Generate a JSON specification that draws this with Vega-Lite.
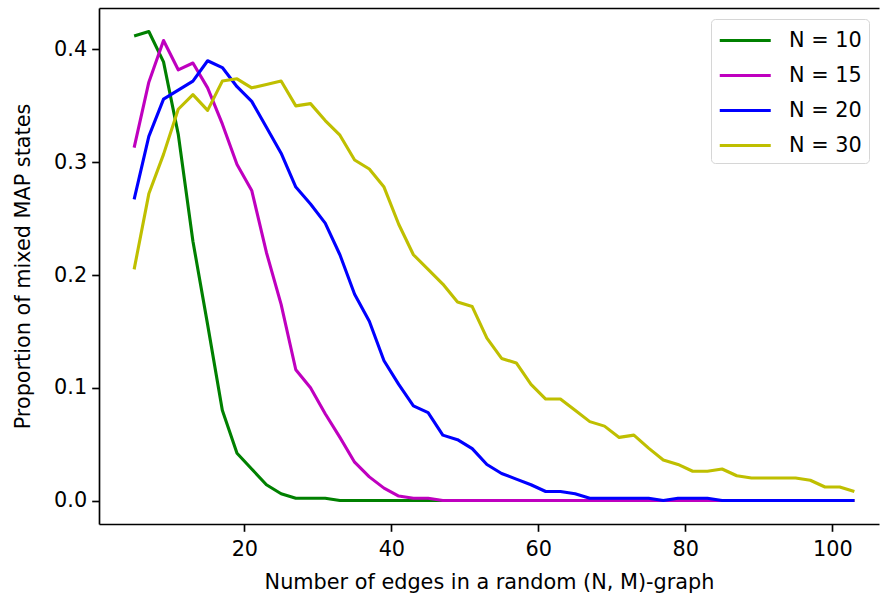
{
  "$schema": "https://vega.github.io/schema/vega-lite/v6.json",
  "width": 780,
  "height": 516,
  "autosize": {"type": "none"},
  "padding": {"left": 99, "top": 8, "right": 1, "bottom": 75},
  "background": "white",
  "config": {
    "font": "DejaVu Sans",
    "view": {"stroke": null},
    "axis": {
      "labelFontSize": 20.8,
      "titleFontSize": 20.8,
      "titleFontWeight": "normal",
      "labelColor": "black",
      "titleColor": "black",
      "tickColor": "black",
      "domainColor": "black",
      "tickSize": 7.3,
      "tickWidth": 1.67,
      "domainWidth": 1.67,
      "labelPadding": 5,
      "grid": false
    },
    "legend": {
      "labelFontSize": 20.8,
      "labelColor": "black",
      "labelFont": "DejaVu Sans"
    }
  },
  "data": {
    "values": [
      {"M":5,"N":"N = 10","p":0.412},{"M":7,"N":"N = 10","p":0.416},{"M":9,"N":"N = 10","p":0.389},{"M":11,"N":"N = 10","p":0.325},{"M":13,"N":"N = 10","p":0.230},{"M":15,"N":"N = 10","p":0.156},{"M":17,"N":"N = 10","p":0.080},{"M":19,"N":"N = 10","p":0.042},{"M":21,"N":"N = 10","p":0.028},{"M":23,"N":"N = 10","p":0.014},
      {"M":25,"N":"N = 10","p":0.006},{"M":27,"N":"N = 10","p":0.002},{"M":29,"N":"N = 10","p":0.002},{"M":31,"N":"N = 10","p":0.002},{"M":33,"N":"N = 10","p":0},{"M":35,"N":"N = 10","p":0},{"M":37,"N":"N = 10","p":0},{"M":39,"N":"N = 10","p":0},{"M":41,"N":"N = 10","p":0},{"M":43,"N":"N = 10","p":0},
      {"M":45,"N":"N = 10","p":0},{"M":47,"N":"N = 10","p":0},{"M":49,"N":"N = 10","p":0},{"M":51,"N":"N = 10","p":0},{"M":53,"N":"N = 10","p":0},{"M":55,"N":"N = 10","p":0},{"M":57,"N":"N = 10","p":0},{"M":59,"N":"N = 10","p":0},{"M":61,"N":"N = 10","p":0},{"M":63,"N":"N = 10","p":0},
      {"M":65,"N":"N = 10","p":0},{"M":67,"N":"N = 10","p":0},{"M":69,"N":"N = 10","p":0},{"M":71,"N":"N = 10","p":0},{"M":73,"N":"N = 10","p":0},{"M":75,"N":"N = 10","p":0},{"M":77,"N":"N = 10","p":0},{"M":79,"N":"N = 10","p":0},{"M":81,"N":"N = 10","p":0},{"M":83,"N":"N = 10","p":0},
      {"M":85,"N":"N = 10","p":0},{"M":87,"N":"N = 10","p":0},{"M":89,"N":"N = 10","p":0},{"M":91,"N":"N = 10","p":0},{"M":93,"N":"N = 10","p":0},{"M":95,"N":"N = 10","p":0},{"M":97,"N":"N = 10","p":0},{"M":99,"N":"N = 10","p":0},{"M":101,"N":"N = 10","p":0},{"M":103,"N":"N = 10","p":0},

      {"M":5,"N":"N = 15","p":0.313},{"M":7,"N":"N = 15","p":0.371},{"M":9,"N":"N = 15","p":0.408},{"M":11,"N":"N = 15","p":0.382},{"M":13,"N":"N = 15","p":0.388},{"M":15,"N":"N = 15","p":0.366},{"M":17,"N":"N = 15","p":0.334},{"M":19,"N":"N = 15","p":0.298},{"M":21,"N":"N = 15","p":0.275},{"M":23,"N":"N = 15","p":0.220},
      {"M":25,"N":"N = 15","p":0.174},{"M":27,"N":"N = 15","p":0.116},{"M":29,"N":"N = 15","p":0.100},{"M":31,"N":"N = 15","p":0.077},{"M":33,"N":"N = 15","p":0.056},{"M":35,"N":"N = 15","p":0.034},{"M":37,"N":"N = 15","p":0.021},{"M":39,"N":"N = 15","p":0.011},{"M":41,"N":"N = 15","p":0.004},{"M":43,"N":"N = 15","p":0.002},
      {"M":45,"N":"N = 15","p":0.002},{"M":47,"N":"N = 15","p":0},{"M":49,"N":"N = 15","p":0},{"M":51,"N":"N = 15","p":0},{"M":53,"N":"N = 15","p":0},{"M":55,"N":"N = 15","p":0},{"M":57,"N":"N = 15","p":0},{"M":59,"N":"N = 15","p":0},{"M":61,"N":"N = 15","p":0},{"M":63,"N":"N = 15","p":0},
      {"M":65,"N":"N = 15","p":0},{"M":67,"N":"N = 15","p":0},{"M":69,"N":"N = 15","p":0},{"M":71,"N":"N = 15","p":0},{"M":73,"N":"N = 15","p":0},{"M":75,"N":"N = 15","p":0},{"M":77,"N":"N = 15","p":0},{"M":79,"N":"N = 15","p":0},{"M":81,"N":"N = 15","p":0},{"M":83,"N":"N = 15","p":0},
      {"M":85,"N":"N = 15","p":0},{"M":87,"N":"N = 15","p":0},{"M":89,"N":"N = 15","p":0},{"M":91,"N":"N = 15","p":0},{"M":93,"N":"N = 15","p":0},{"M":95,"N":"N = 15","p":0},{"M":97,"N":"N = 15","p":0},{"M":99,"N":"N = 15","p":0},{"M":101,"N":"N = 15","p":0},{"M":103,"N":"N = 15","p":0},

      {"M":5,"N":"N = 20","p":0.267},{"M":7,"N":"N = 20","p":0.323},{"M":9,"N":"N = 20","p":0.356},{"M":11,"N":"N = 20","p":0.364},{"M":13,"N":"N = 20","p":0.372},{"M":15,"N":"N = 20","p":0.390},{"M":17,"N":"N = 20","p":0.384},{"M":19,"N":"N = 20","p":0.367},{"M":21,"N":"N = 20","p":0.354},{"M":23,"N":"N = 20","p":0.331},
      {"M":25,"N":"N = 20","p":0.308},{"M":27,"N":"N = 20","p":0.278},{"M":29,"N":"N = 20","p":0.263},{"M":31,"N":"N = 20","p":0.246},{"M":33,"N":"N = 20","p":0.218},{"M":35,"N":"N = 20","p":0.183},{"M":37,"N":"N = 20","p":0.159},{"M":39,"N":"N = 20","p":0.124},{"M":41,"N":"N = 20","p":0.103},{"M":43,"N":"N = 20","p":0.084},
      {"M":45,"N":"N = 20","p":0.078},{"M":47,"N":"N = 20","p":0.058},{"M":49,"N":"N = 20","p":0.054},{"M":51,"N":"N = 20","p":0.046},{"M":53,"N":"N = 20","p":0.032},{"M":55,"N":"N = 20","p":0.024},{"M":57,"N":"N = 20","p":0.019},{"M":59,"N":"N = 20","p":0.014},{"M":61,"N":"N = 20","p":0.008},{"M":63,"N":"N = 20","p":0.008},
      {"M":65,"N":"N = 20","p":0.006},{"M":67,"N":"N = 20","p":0.002},{"M":69,"N":"N = 20","p":0.002},{"M":71,"N":"N = 20","p":0.002},{"M":73,"N":"N = 20","p":0.002},{"M":75,"N":"N = 20","p":0.002},{"M":77,"N":"N = 20","p":0},{"M":79,"N":"N = 20","p":0.002},{"M":81,"N":"N = 20","p":0.002},{"M":83,"N":"N = 20","p":0.002},
      {"M":85,"N":"N = 20","p":0},{"M":87,"N":"N = 20","p":0},{"M":89,"N":"N = 20","p":0},{"M":91,"N":"N = 20","p":0},{"M":93,"N":"N = 20","p":0},{"M":95,"N":"N = 20","p":0},{"M":97,"N":"N = 20","p":0},{"M":99,"N":"N = 20","p":0},{"M":101,"N":"N = 20","p":0},{"M":103,"N":"N = 20","p":0},

      {"M":5,"N":"N = 30","p":0.205},{"M":7,"N":"N = 30","p":0.272},{"M":9,"N":"N = 30","p":0.307},{"M":11,"N":"N = 30","p":0.347},{"M":13,"N":"N = 30","p":0.360},{"M":15,"N":"N = 30","p":0.346},{"M":17,"N":"N = 30","p":0.372},{"M":19,"N":"N = 30","p":0.374},{"M":21,"N":"N = 30","p":0.366},{"M":23,"N":"N = 30","p":0.369},
      {"M":25,"N":"N = 30","p":0.372},{"M":27,"N":"N = 30","p":0.350},{"M":29,"N":"N = 30","p":0.352},{"M":31,"N":"N = 30","p":0.337},{"M":33,"N":"N = 30","p":0.324},{"M":35,"N":"N = 30","p":0.302},{"M":37,"N":"N = 30","p":0.294},{"M":39,"N":"N = 30","p":0.278},{"M":41,"N":"N = 30","p":0.245},{"M":43,"N":"N = 30","p":0.218},
      {"M":45,"N":"N = 30","p":0.205},{"M":47,"N":"N = 30","p":0.192},{"M":49,"N":"N = 30","p":0.176},{"M":51,"N":"N = 30","p":0.172},{"M":53,"N":"N = 30","p":0.144},{"M":55,"N":"N = 30","p":0.126},{"M":57,"N":"N = 30","p":0.122},{"M":59,"N":"N = 30","p":0.103},{"M":61,"N":"N = 30","p":0.090},{"M":63,"N":"N = 30","p":0.090},
      {"M":65,"N":"N = 30","p":0.080},{"M":67,"N":"N = 30","p":0.070},{"M":69,"N":"N = 30","p":0.066},{"M":71,"N":"N = 30","p":0.056},{"M":73,"N":"N = 30","p":0.058},{"M":75,"N":"N = 30","p":0.0465},{"M":77,"N":"N = 30","p":0.036},{"M":79,"N":"N = 30","p":0.032},{"M":81,"N":"N = 30","p":0.026},{"M":83,"N":"N = 30","p":0.026},
      {"M":85,"N":"N = 30","p":0.028},{"M":87,"N":"N = 30","p":0.022},{"M":89,"N":"N = 30","p":0.020},{"M":91,"N":"N = 30","p":0.020},{"M":93,"N":"N = 30","p":0.020},{"M":95,"N":"N = 30","p":0.020},{"M":97,"N":"N = 30","p":0.018},{"M":99,"N":"N = 30","p":0.012},{"M":101,"N":"N = 30","p":0.012},{"M":103,"N":"N = 30","p":0.008}
    ]
  },
  "layer": [
    {
      "mark": {"type": "line", "strokeWidth": 3.1, "strokeJoin": "round", "clip": true},
      "encoding": {
        "x": {
          "field": "M", "type": "quantitative",
          "scale": {"domain": [0.22, 106.35], "nice": false, "zero": false},
          "axis": {"values": [20, 40, 60, 80, 100], "title": "Number of edges in a random (N, M)-graph", "titlePadding": 13, "labelPadding": 8}
        },
        "y": {
          "field": "p", "type": "quantitative",
          "scale": {"domain": [-0.0208, 0.4368], "nice": false, "zero": false},
          "axis": {"values": [0, 0.1, 0.2, 0.3, 0.4], "format": ".1f", "title": "Proportion of mixed MAP states", "titlePadding": 20}
        },
        "color": {
          "field": "N", "type": "nominal",
          "sort": ["N = 10", "N = 15", "N = 20", "N = 30"],
          "scale": {"domain": ["N = 10", "N = 15", "N = 20", "N = 30"], "range": ["#008000", "#bf00bf", "#0000ff", "#bfbf00"]},
          "legend": {
            "title": null,
            "orient": "none",
            "legendX": 612,
            "legendY": 11,
            "symbolType": "M-1,0H3",
            "symbolSize": 650,
            "symbolStrokeWidth": 3.1,
            "symbolFillColor": "transparent",
            "labelOffset": 42,
            "rowPadding": 10,
            "padding": 7,
            "strokeColor": "#d6d6d6",
            "fillColor": "white",
            "cornerRadius": 4
          }
        },
        "order": {"field": "M", "type": "quantitative"}
      }
    },
    {
      "mark": {"type": "rule", "strokeOpacity": 0},
      "encoding": {
        "x": {
          "field": "M", "type": "quantitative",
          "axis": {"orient": "top", "labels": false, "ticks": false, "title": null, "domain": true}
        }
      }
    }
  ],
  "resolve": {"axis": {"x": "independent"}}
}
